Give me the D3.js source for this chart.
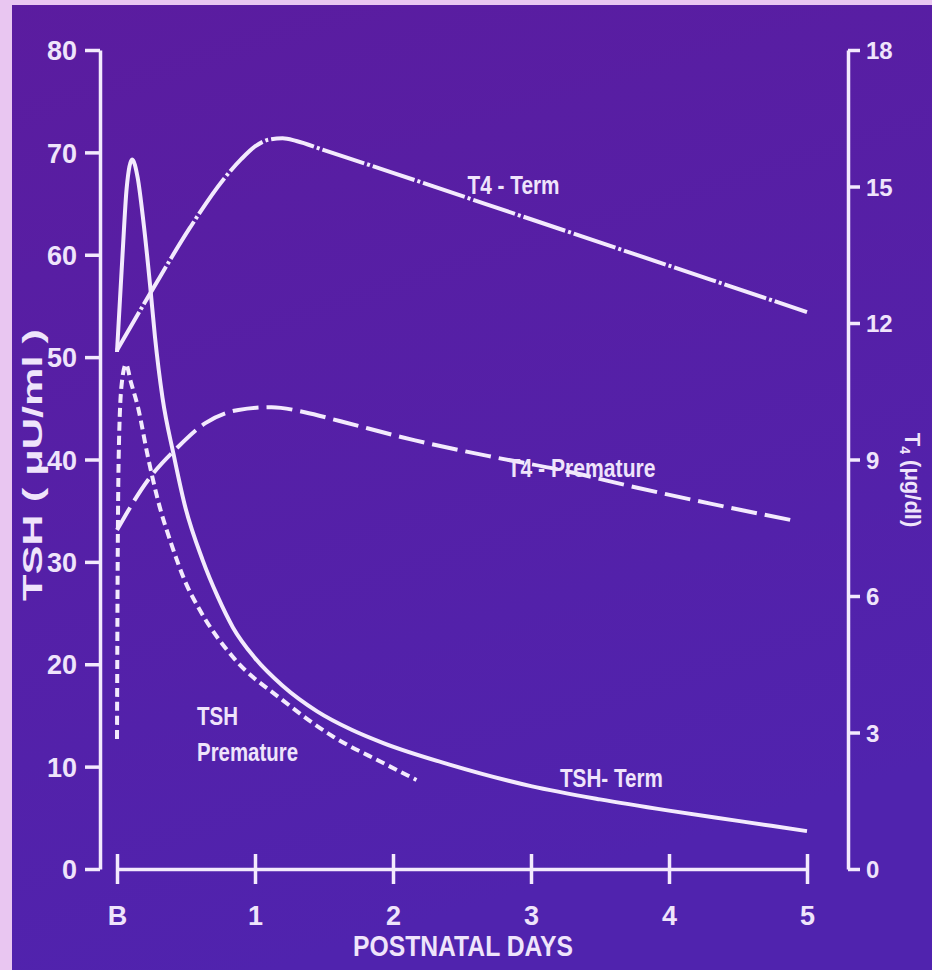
<!DOCTYPE html>
<html>
<head>
<meta charset="utf-8">
<script src="https://cdn.jsdelivr.net/npm/d3@7"></script>
<style>
body { margin: 0; background: #5a1fa6; }
svg { display: block; }
text { font-family: "Liberation Sans", Arial, sans-serif; font-weight: bold; fill: #efe4fb; }
</style>
</head>
<body>
<script>
const w = 932;
const h = 970;

// axis ticks
const dayTicks = [0, 1, 2, 3, 4, 5];
const dayLabels = ["B", "1", "2", "3", "4", "5"];
const tshTicks = [0, 10, 20, 30, 40, 50, 60, 70, 80];
const t4Ticks = [0, 3, 6, 9, 12, 15, 18];

// TSH term (solid), left axis
const tshTermDays   = [0, 0.04, 0.07, 0.11, 0.15, 0.19, 0.24, 0.275, 0.33, 0.41, 0.49, 0.62, 0.73, 0.84, 1.0, 1.2, 1.45, 1.7, 1.93, 2.41, 3.0, 3.5, 4.0, 4.5, 5.0];
const tshTermValues = [50.5, 60, 66.5, 69.3, 67.5, 63.4, 57, 52, 46, 40.5, 35.6, 30.2, 26.6, 23.6, 20.6, 17.9, 15.4, 13.6, 12.3, 10.2, 8.1, 6.8, 5.7, 4.7, 3.7];

// TSH premature (short dashes), left axis
const tshPremDays   = [0, 0.005, 0.015, 0.035, 0.065, 0.1, 0.152, 0.225, 0.297, 0.4, 0.49, 0.6, 0.84, 1.2, 1.57, 1.93, 2.17];
const tshPremValues = [12.7, 30, 42, 47.5, 49.3, 47.6, 45.1, 40.2, 36.0, 31.5, 28.2, 25.3, 20.7, 16.5, 12.9, 10.35, 8.7];

// T4 term (dash-dot), right axis
const t4TermDays   = [0, 0.26, 0.53, 0.77, 0.9, 1.0, 1.1, 1.2, 1.3, 1.5, 2, 3, 4, 5];
const t4TermValues = [11.4, 12.75, 14.1, 15.15, 15.6, 15.88, 16.03, 16.06, 16.0, 15.8, 15.3, 14.28, 13.26, 12.24];

// T4 premature (long dashes), right axis
const t4PremDays   = [0, 0.225, 0.44, 0.64, 0.88, 1.12, 1.36, 1.62, 2.16, 2.7, 3.23, 3.77, 4.3, 4.9];
const t4PremValues = [7.45, 8.55, 9.27, 9.8, 10.09, 10.15, 10.04, 9.84, 9.42, 9.07, 8.76, 8.38, 8.03, 7.66];

// curve labels: text, day, value, axis
const labelTexts = ["T4 - Term", "T4 - Premature", "TSH", "Premature", "TSH- Term"];
const labelDays  = [2.54, 2.83, 0.58, 0.58, 3.21];
const labelVals  = [14.83, 8.62, 14.1, 10.55, 8.0];
const labelAxis  = ["r", "r", "l", "l", "l"];
const labelLens  = [92, 148, 41, 101, 103];

const x = d3.scaleLinear().domain([0, 5]).range([117, 807]);
const yL = d3.scaleLinear().domain([0, 80]).range([869, 50]);
const yR = d3.scaleLinear().domain([0, 18]).range([869, 50]);

const svg = d3.select("body").append("svg")
	.attr("width", w)
	.attr("height", h);

const grad = svg.append("defs").append("linearGradient")
	.attr("id", "bg").attr("x1", 0).attr("y1", 0).attr("x2", 0.3).attr("y2", 1);
grad.append("stop").attr("offset", 0).attr("stop-color", "#5b1c9f");
grad.append("stop").attr("offset", 1).attr("stop-color", "#5023ae");

svg.append("rect").attr("width", w).attr("height", h).attr("fill", "url(#bg)");
// pale slide edge on top and left
svg.append("rect").attr("width", 12).attr("height", h).attr("fill", "#e9c6f1");
svg.append("rect").attr("width", w).attr("height", 5).attr("fill", "#e9c6f1");

const stroke = "#f3eafd";

// left axis
const leftAxis = svg.append("g")
	.attr("transform", "translate(100,0)")
	.call(d3.axisLeft(yL).tickValues(tshTicks).tickSize(15).tickSizeOuter(0).tickPadding(8));

// right axis
const rightAxis = svg.append("g")
	.attr("transform", "translate(848,0)")
	.call(d3.axisRight(yR).tickValues(t4Ticks).tickSize(12).tickSizeOuter(0).tickPadding(6));

// bottom axis
const xAxis = svg.append("g")
	.attr("transform", "translate(0,869)")
	.call(d3.axisBottom(x).tickValues(dayTicks).tickSize(15).tickSizeOuter(0).tickPadding(22)
		.tickFormat((d, i) => dayLabels[i]));
xAxis.selectAll(".tick line").attr("y1", -15);

[leftAxis, rightAxis, xAxis].forEach((g) => {
	g.select(".domain").attr("stroke", stroke).attr("stroke-width", 3.5);
	g.selectAll(".tick line").attr("stroke", stroke).attr("stroke-width", 3.5);
	g.selectAll(".tick text")
		.attr("fill", "#efe4fb")
		.style("font-size", "27px")
		.style("font-family", "\"Liberation Sans\", Arial, sans-serif")
		.style("font-weight", "bold");
});
leftAxis.selectAll(".tick text").attr("dy", "0.36em");
rightAxis.selectAll(".tick text").attr("dy", "0.36em").style("font-size", "24px");

// series
const lineL = d3.line().x((d) => x(d[0])).y((d) => yL(d[1])).curve(d3.curveMonotoneX);
const lineR = d3.line().x((d) => x(d[0])).y((d) => yR(d[1])).curve(d3.curveMonotoneX);

const series = [
	{days: t4TermDays, vals: t4TermValues, line: lineR, dash: "44,3,3,3"},
	{days: t4PremDays, vals: t4PremValues, line: lineR, dash: "26,8"},
	{days: tshPremDays, vals: tshPremValues, line: lineL, dash: "9,5"},
	{days: tshTermDays, vals: tshTermValues, line: lineL, dash: null}
];

series.forEach((s) => {
	svg.append("path")
		.datum(s.days.map((d, i) => [d, s.vals[i]]))
		.attr("d", s.line)
		.attr("fill", "none")
		.attr("stroke", stroke)
		.attr("stroke-width", 4)
		.attr("stroke-linecap", "butt")
		.attr("stroke-dasharray", s.dash);
});

// curve labels
svg.selectAll(".lbl")
	.data(labelTexts)
	.enter()
	.append("text")
	.attr("class", "lbl")
	.attr("x", (d, i) => x(labelDays[i]))
	.attr("y", (d, i) => labelAxis[i] == "r" ? yR(labelVals[i]) : yL(labelVals[i]))
	.attr("textLength", (d, i) => labelLens[i])
	.attr("lengthAdjust", "spacingAndGlyphs")
	.style("font-size", "26px")
	.text((d) => d);

// axis titles
svg.append("text")
	.attr("x", 463)
	.attr("y", 956)
	.attr("text-anchor", "middle")
	.attr("textLength", 220)
	.attr("lengthAdjust", "spacingAndGlyphs")
	.style("font-size", "30px")
	.text("POSTNATAL  DAYS");

svg.append("text")
	.attr("transform", "translate(42,465) rotate(-90)")
	.attr("text-anchor", "middle")
	.attr("textLength", 272)
	.attr("lengthAdjust", "spacingAndGlyphs")
	.style("font-size", "27px")
	.text("TSH ( \u03bcU/ml )");

const t4Title = svg.append("text")
	.attr("transform", "translate(905,480) rotate(90)")
	.attr("text-anchor", "middle")
	.style("font-size", "22px");
t4Title.append("tspan").text("T");
t4Title.append("tspan").attr("dy", 5).style("font-size", "14px").text("4");
t4Title.append("tspan").attr("dy", -5).text(" (\u03bcg/dl)");
</script>
</body>
</html>
